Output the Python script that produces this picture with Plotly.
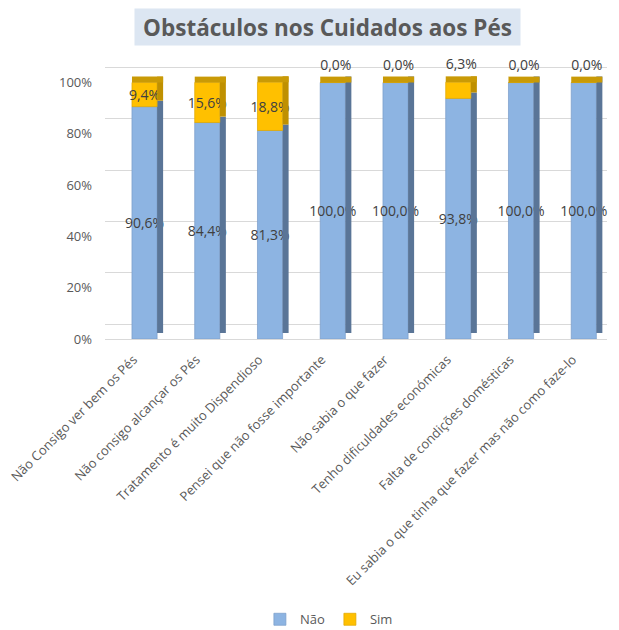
import plotly.graph_objects as go

categories = [
    "Não Consigo ver bem os Pés",
    "Não consigo alcançar os Pés",
    "Tratamento é muito Dispendioso",
    "Pensei que não fosse importante",
    "Não sabia o que fazer",
    "Tenho dificuldades económicas",
    "Falta de condições domésticas",
    "Eu sabia o que tinha que fazer mas não como faze-lo",
]
nao = [90.6, 84.4, 81.3, 100.0, 100.0, 93.8, 100.0, 100.0]
sim = [9.4, 15.6, 18.8, 0.0, 0.0, 6.3, 0.0, 0.0]
y_ticks = [0, 20, 40, 60, 80, 100]
y_tick_labels = ["0%", "20%", "40%", "60%", "80%", "100%"]
series_names = ["Não", "Sim"]
title_text = "Obstáculos nos Cuidados aos Pés"

FRONT_W = 0.4
SIDE_W = 0.096
DEPTH = 2.3
FONT = "Open Sans"
LABEL_COLOR = "#404040"
AXIS_COLOR = "#595959"


def fmt(v):
    return f"{v:.1f}%".replace(".", ",")


n = len(categories)
totals = [a + b for a, b in zip(nao, sim)]
label_font = dict(family=FONT, size=14, color=LABEL_COLOR)

fig = go.Figure()

# front faces
fig.add_bar(
    x=categories, y=nao, base=[0] * n, name=series_names[0],
    width=FRONT_W, offset=-FRONT_W / 2,
    marker=dict(color="#8DB4E2", line=dict(color="#7C9FCB", width=0.75)),
    text=[fmt(v) for v in nao], textposition="inside", insidetextanchor="middle",
    textangle=0, constraintext="none", textfont=label_font, cliponaxis=False,
    hoverinfo="skip",
)
# side of Não
fig.add_bar(
    x=categories, y=nao, base=[DEPTH] * n, showlegend=False,
    width=SIDE_W, offset=FRONT_W / 2,
    marker=dict(color="#5A7597", line=dict(width=0)), hoverinfo="skip",
)
fig.add_bar(
    x=categories, y=sim, base=nao, name=series_names[1],
    width=FRONT_W, offset=-FRONT_W / 2,
    marker=dict(color="#FFC000", line=dict(color="#E0A800", width=0.75)),
    text=[fmt(v) if v >= 8 else "" for v in sim], textposition="inside",
    insidetextanchor="middle", textangle=0, constraintext="none",
    textfont=label_font, cliponaxis=False, hoverinfo="skip",
)
# side of Sim
fig.add_bar(
    x=categories, y=sim, base=[v + DEPTH for v in nao], showlegend=False,
    width=SIDE_W, offset=FRONT_W / 2,
    marker=dict(color="#BF9000", line=dict(width=0)), hoverinfo="skip",
)
# top caps
fig.add_bar(
    x=categories, y=[DEPTH] * n, base=totals, showlegend=False,
    width=FRONT_W + SIDE_W, offset=-FRONT_W / 2,
    marker=dict(color="#C99A06", line=dict(width=0)),
    text=[fmt(v) if v < 8 else "" for v in sim], textposition="outside",
    textangle=0, constraintext="none", textfont=label_font, cliponaxis=False,
    hoverinfo="skip",
)
# helper for back-wall gridlines
fig.add_scatter(
    x=[categories[0]], y=[0], yaxis="y2", mode="markers",
    marker=dict(opacity=0), showlegend=False, hoverinfo="skip",
)

# the page body has an 8px margin, so the figure is 8px smaller than the window
fig.update_layout(
    width=611, height=622,
    margin=dict(l=97, r=12, t=54, b=291, autoexpand=False),
    paper_bgcolor="white", plot_bgcolor="rgba(0,0,0,0)",
    barmode="overlay",
    font=dict(family=FONT, color=AXIS_COLOR),
    xaxis=dict(
        type="category", range=[-0.63, 7.37], tickangle=-45,
        showline=True, linecolor="#D9D9D9", linewidth=1, ticks="",
        showgrid=False, automargin=False, ticklabelshift=-11,
        ticklabelstandoff=7,
        tickfont=dict(family=FONT, size=13, color=AXIS_COLOR),
    ),
    yaxis=dict(
        range=[0, 108], tickvals=y_ticks, ticktext=y_tick_labels,
        showgrid=False, zeroline=False, ticklabelstandoff=12, automargin=False,
        tickfont=dict(family=FONT, size=13, color=AXIS_COLOR),
    ),
    yaxis2=dict(
        overlaying="y", range=[-5.8, 102.2], tickvals=y_ticks,
        showgrid=True, gridcolor="#D9D9D9", gridwidth=1,
        showticklabels=False, zeroline=False, automargin=False,
    ),
    legend=dict(
        orientation="h", x=0.446, xanchor="center", y=-1.012, yanchor="middle",
        font=dict(family=FONT, size=13, color=AXIS_COLOR), traceorder="normal",
        itemwidth=30,
    ),
    annotations=[dict(
        text="<b>" + title_text + "</b>", xref="paper", yref="paper",
        x=0.443, y=1.126, xanchor="center", yanchor="middle", showarrow=False,
        bgcolor="#DCE6F2", width=385, height=36, borderpad=0,
        font=dict(family=FONT, size=22.5, color=AXIS_COLOR),
    )],
)

fig.write_html("out.html")
